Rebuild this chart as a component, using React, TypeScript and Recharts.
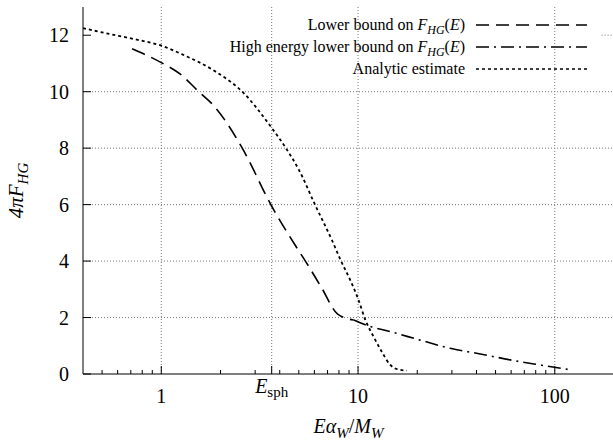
import React from "react";
import { ComposedChart, Line, XAxis, YAxis, ReferenceLine, Label } from "recharts";

const FONT = "'Liberation Serif', 'Times New Roman', serif";

// sphaleron energy in units of M_W / alpha_W
const E_SPH = 3.64;

// Analytic estimate (dotted)
const analyticX = [0.4, 0.55, 0.73, 1.0, 1.28, 1.85, 2.58, 3.63, 4.3, 4.99, 6.07, 7.38, 8.2, 9.14, 10.07, 10.9, 12.0, 13.2, 14.6, 15.8, 17.7];
const analyticY = [12.25, 12.04, 11.86, 11.63, 11.32, 10.75, 10.0, 8.73, 8.0, 7.25, 5.97, 4.73, 4.0, 3.32, 2.61, 1.91, 1.32, 0.79, 0.32, 0.17, 0.12];

// Lower bound (dashed)
const lowerX = [0.71, 1.0, 1.25, 1.55, 1.85, 2.58, 3.63, 4.98, 5.4, 6.51, 7.88, 9.5];
const lowerY = [11.52, 11.03, 10.62, 10.0, 9.5, 8.0, 5.96, 4.38, 4.0, 3.07, 2.12, 1.91];

// High energy lower bound (dash-dot)
const highX = [9.5, 11.55, 14.6, 20.7, 29.4, 41.8, 59.3, 84.2, 122];
const highY = [1.91, 1.68, 1.5, 1.2, 0.91, 0.71, 0.5, 0.32, 0.14];

const xMajorTicks = [1, 10, 100];
const xMinorTicks = [0.5, 0.6, 0.7, 0.8, 0.9, 2, 3, 4, 5, 6, 7, 8, 9, 20, 30, 40, 50, 60, 70, 80, 90, 200];
const xGridLines = [1, E_SPH, 10, 100];
const yTicks = [0, 2, 4, 6, 8, 10, 12];
const yGridLines = [2, 4, 6, 8, 10];

const legendLabels = ["Lower bound on ", "High energy lower bound on ", "Analytic estimate"];
const legendDashes = ["13 7", "13 5 2 5", "3 3"];

const zip = (xs: number[], ys: number[]) => xs.map((x, i) => ({ x, y: ys[i] }));

const allXTicks = [...xMinorTicks, ...xMajorTicks, E_SPH].sort((a, b) => a - b);

const txt = { fontFamily: FONT };

const BottomTick = (props: any) => {
  const { x, y, payload } = props;
  const v = payload.value;
  const isMajor = xMajorTicks.includes(v);
  const isSph = v === E_SPH;
  return (
    <g>
      <line x1={x} x2={x} y1={y} y2={y - (isMajor || isSph ? 8 : 4)} stroke="#000" />
      {isMajor && (
        <text x={x} y={y + 29} textAnchor="middle" fontSize={20} style={txt} fill="#000">
          {v}
        </text>
      )}
      {isSph && (
        <text x={x} y={y + 19} textAnchor="middle" style={txt} fill="#000">
          <tspan fontStyle="italic" fontSize={20}>E</tspan>
          <tspan fontSize={15} dy={4}>sph</tspan>
        </text>
      )}
    </g>
  );
};

const TopTick = (props: any) => {
  const { x, y, payload } = props;
  const v = payload.value;
  const long = xMajorTicks.includes(v) || v === E_SPH;
  return <line x1={x} x2={x} y1={y} y2={y + (long ? 8 : 4)} stroke="#000" />;
};

const LeftTick = (props: any) => {
  const { x, y, payload } = props;
  return (
    <g>
      <line x1={x} x2={x + 8} y1={y} y2={y} stroke="#000" />
      <text x={x - 14} y={y + 7} textAnchor="end" fontSize={20} style={txt} fill="#000">
        {payload.value}
      </text>
    </g>
  );
};

const XTitle = (props: any) => {
  const vb = props.viewBox;
  return (
    <text x={vb.x + vb.width / 2} y={433} textAnchor="middle" style={txt} fontSize={20} fill="#000">
      <tspan fontStyle="italic">E</tspan>
      <tspan fontStyle="italic">α</tspan>
      <tspan fontStyle="italic" fontSize={15} dy={5}>W</tspan>
      <tspan dy={-5}>/</tspan>
      <tspan fontStyle="italic">M</tspan>
      <tspan fontStyle="italic" fontSize={15} dy={5}>W</tspan>
    </text>
  );
};

const YTitle = (props: any) => {
  const vb = props.viewBox;
  const cx = 23;
  const cy = vb.y + vb.height / 2;
  return (
    <text
      x={cx}
      y={cy}
      transform={`rotate(-90 ${cx} ${cy})`}
      textAnchor="middle"
      style={txt}
      fontSize={21}
      fill="#000"
    >
      <tspan fontStyle="italic">4πF</tspan>
      <tspan fontStyle="italic" fontSize={15} dy={5}>HG</tspan>
    </text>
  );
};

function LegendBox() {
  const rows = [25, 47, 69];
  return (
    <svg width={613} height={441} style={{ position: "absolute", left: 0, top: 0, pointerEvents: "none" }}>
      {legendLabels.map((label, i) => (
        <g key={label}>
          <text x={465} y={rows[i] + 5} textAnchor="end" style={txt} fontSize={16} fill="#000">
            <tspan>{label}</tspan>
            {i < 2 && (
              <>
                <tspan fontStyle="italic">F</tspan>
                <tspan fontStyle="italic" fontSize={12} dy={4}>HG</tspan>
                <tspan dy={-4}>(</tspan>
                <tspan fontStyle="italic">E</tspan>
                <tspan>)</tspan>
              </>
            )}
          </text>
          <line x1={476} x2={587} y1={rows[i]} y2={rows[i]} stroke="#000" strokeWidth={1.6} strokeDasharray={legendDashes[i]} />
        </g>
      ))}
    </svg>
  );
}

export default function App() {
  const grid = { stroke: "#777", strokeWidth: 1, strokeDasharray: "1 2" };
  return (
    <div style={{ position: "absolute", left: 0, top: 0, width: 613, height: 441, overflow: "hidden", background: "#fff", fontFamily: FONT }}>
      <ComposedChart width={614} height={441} margin={{ top: 7, right: 0, bottom: 0, left: 0 }}>
        <XAxis
          dataKey="x"
          type="number"
          scale="log"
          domain={[0.4, 200]}
          allowDataOverflow
          ticks={allXTicks}
          interval={0}
          tickSize={0}
          tickMargin={0}
          tickLine={false}
          tick={<BottomTick />}
          height={67}
          axisLine={{ stroke: "#000" }}
        >
          <Label content={<XTitle />} />
        </XAxis>
        <XAxis
          xAxisId="top"
          orientation="top"
          dataKey="x"
          type="number"
          scale="log"
          domain={[0.4, 200]}
          allowDataOverflow
          ticks={allXTicks}
          interval={0}
          tickSize={0}
          tickMargin={0}
          tickLine={false}
          tick={<TopTick />}
          height={0}
          axisLine={{ stroke: "#000" }}
        />
        <YAxis
          type="number"
          domain={[0, 13]}
          allowDataOverflow
          ticks={yTicks}
          interval={0}
          tickSize={0}
          tickMargin={0}
          tickLine={false}
          tick={<LeftTick />}
          width={83}
          axisLine={{ stroke: "#000" }}
        >
          <Label content={<YTitle />} />
        </YAxis>

        {xGridLines.map((v) => (
          <ReferenceLine key={`gx${v}`} x={v} {...grid} />
        ))}
        {yGridLines.map((v) => (
          <ReferenceLine key={`gy${v}`} y={v} {...grid} />
        ))}
        <ReferenceLine segment={[{ x: 173, y: 12 }, { x: 200, y: 12 }]} {...grid} />

        <Line
          data={zip(lowerX, lowerY)}
          dataKey="y"
          type="monotone"
          stroke="#000"
          strokeWidth={1.6}
          strokeDasharray="14 7"
          dot={false}
          activeDot={false}
          isAnimationActive={false}
        />
        <Line
          data={zip(highX, highY)}
          dataKey="y"
          type="monotone"
          stroke="#000"
          strokeWidth={1.6}
          strokeDasharray="13 5 2 5"
          dot={false}
          activeDot={false}
          isAnimationActive={false}
        />
        <Line
          data={zip(analyticX, analyticY)}
          dataKey="y"
          type="monotone"
          stroke="#000"
          strokeWidth={1.8}
          strokeDasharray="3 3"
          dot={false}
          activeDot={false}
          isAnimationActive={false}
        />
      </ComposedChart>
      <LegendBox />
    </div>
  );
}
